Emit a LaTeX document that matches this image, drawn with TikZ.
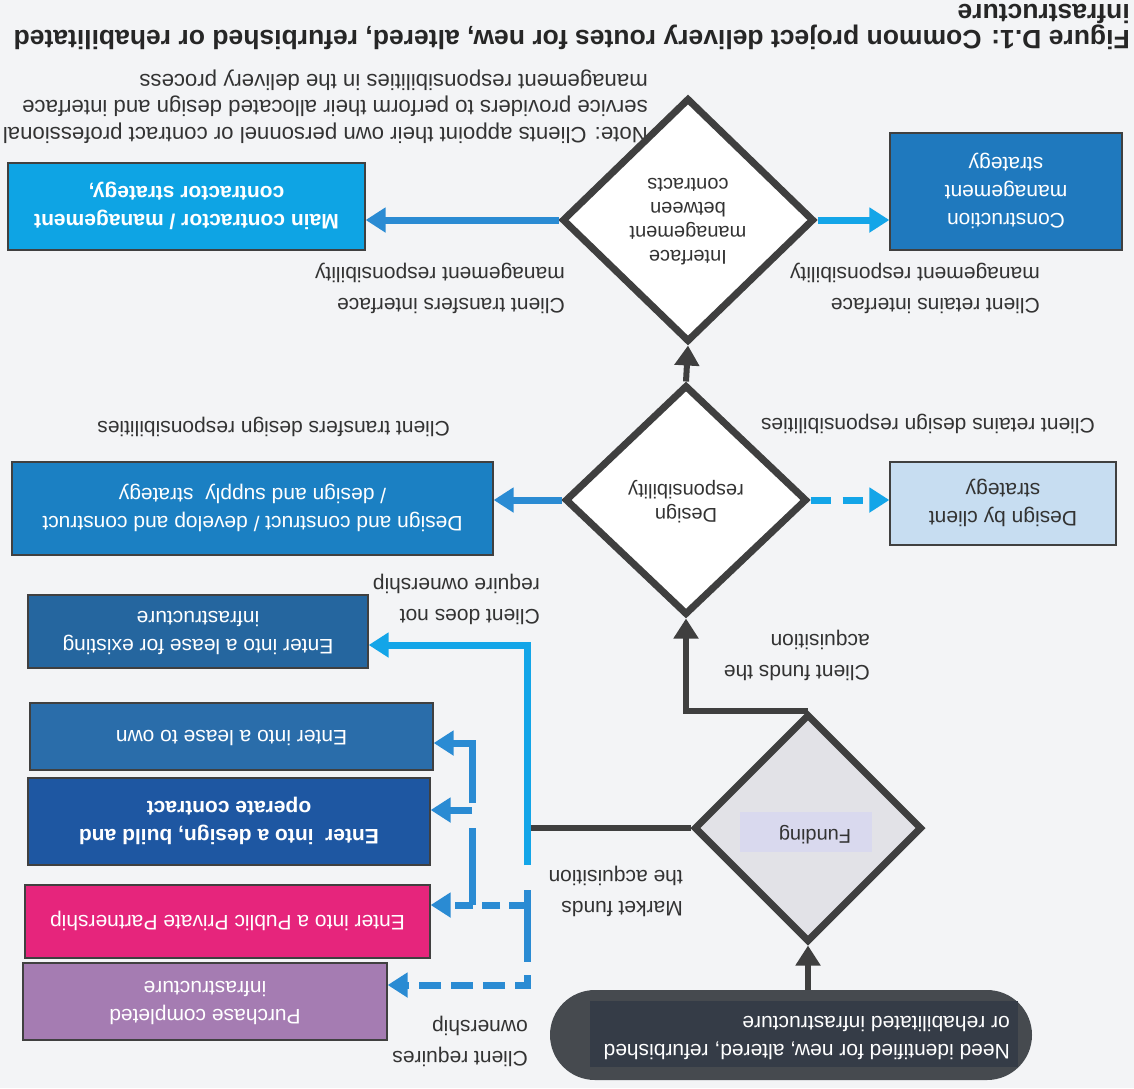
\documentclass[tikz,border=0pt]{standalone}
\usepackage{fontspec}
\setmainfont{Liberation Sans}
\usepackage{graphicx}
\usetikzlibrary{arrows.meta,shapes.geometric}
\definecolor{bgc}{HTML}{F3F4F6}
\definecolor{dline}{HTML}{3F3F3F}
\definecolor{boxline}{HTML}{404040}
\definecolor{cyanb}{HTML}{13A5E8}
\definecolor{midb}{HTML}{2A8BD3}
\definecolor{cmfill}{HTML}{1F79BE}
\definecolor{mcfill}{HTML}{0EA4E4}
\definecolor{dbcfill}{HTML}{C7DDF1}
\definecolor{dcfill}{HTML}{1B80C3}
\definecolor{lefill}{HTML}{25669F}
\definecolor{lofill}{HTML}{2A6DAA}
\definecolor{dbofill}{HTML}{1E57A2}
\definecolor{pppfill}{HTML}{E6257C}
\definecolor{pcfill}{HTML}{A57CB2}
\definecolor{fundfill}{HTML}{E2E2E7}
\definecolor{fundlbl}{HTML}{D9D9EE}
\definecolor{ovalfill}{HTML}{464A4F}
\definecolor{ovalin}{HTML}{353C47}
\definecolor{txt}{HTML}{333333}
\newcommand{\bodyfnt}{\fontsize{21}{28}\selectfont}
\newcommand{\lblfnt}{\fontsize{21}{31}\selectfont}
\newcommand{\notefnt}{\fontsize{22.2}{26.5}\selectfont}
\newcommand{\diafnt}{\fontsize{20}{24}\selectfont}
\newcommand{\titlefnt}{\fontsize{26.5}{22}\selectfont\bfseries}
\newcommand{\flipc}[1]{\rotatebox[origin=c]{180}{\begin{tabular}{@{}c@{}}#1\end{tabular}}}
\newcommand{\flipl}[1]{\rotatebox[origin=c]{180}{\begin{tabular}{@{}l@{}}#1\end{tabular}}}
\begin{document}
\begin{tikzpicture}[x=1pt,y=1pt,
  box/.style={draw=boxline, line width=1.3pt, inner sep=0pt, text=white, font=\bodyfnt},
  lbl/.style={inner sep=0pt, text=txt, font=\lblfnt, anchor=east},
  dia/.style={diamond, draw=dline, line width=7pt, inner sep=0pt, fill=white},
  tip/.style={-{Triangle[width=24pt,length=20pt]}},
  darr/.style={draw=dline, line width=6pt},
  cline/.style={draw=cyanb, line width=7pt},
  mline/.style={draw=midb, line width=7pt}]
\fill[bgc] (0,0) rectangle (1134,-1088);
\useasboundingbox (0,0) rectangle (1134,-1088);

% title and note
\node[lbl, font=\titlefnt, text=black!85] (title) at (1130,-24) {\flipl{Figure D.1: Common project delivery routes for new, altered, refurbished or rehabilitated\\infrastructure}};
\node[lbl, font=\notefnt] (note) at (648,-106) {\flipl{Note: Clients appoint their own personnel or contract professional\\service providers to perform their allocated design and interface\\management responsibilities in the delivery process}};

% start oval
\node[draw=none, fill=ovalfill, rounded corners=45pt, minimum width=482, minimum height=90, inner sep=0pt] (need) at (791,-1035) {};
\node[fill=ovalin, minimum width=428, minimum height=66, inner sep=0pt] (needbg) at (804,-1034) {};
\node[inner sep=0pt, anchor=east, text=white, font=\bodyfnt] (needt) at (1010,-1036) {\flipl{Need identified for new, altered, refurbished\\or rehabilitated infrastructure}};

% diamonds
\node[dia, fill=fundfill, minimum width=228, minimum height=228] (fund) at (808,-828) {};
\node[fill=fundlbl, minimum width=132, minimum height=40, inner sep=0pt] (fundbg) at (806,-832) {};
\node[inner sep=0pt, text=txt, font=\diafnt] (fundt) at (815,-834) {\flipc{Funding}};
\node[dia, minimum width=242, minimum height=230] (dsn) at (686,-500) {};
\node[inner sep=0pt, text=txt, font=\diafnt] (dsnt) at (686,-501) {\flipc{Design\\responsibility}};
\node[dia, minimum width=252, minimum height=244] (intf) at (688,-220) {};
\node[inner sep=0pt, text=txt, font=\diafnt] (intft) at (688,-219) {\flipc{Interface\\management\\between\\contracts}};

% boxes
\node[box, fill=cmfill, minimum width=232, minimum height=117] (cm) at (1006,-191.5) {\flipc{Construction\\management\\strategy}};
\node[box, fill=mcfill, minimum width=357, minimum height=87, font=\bodyfnt\bfseries] (mc) at (186.5,-206.5) {\flipc{Main contractor / management\\contractor strategy,}};
\node[box, fill=dbcfill, text=txt, minimum width=226, minimum height=83] (dbc) at (1003,-503.5) {\flipc{Design by client\\strategy}};
\node[box, fill=dcfill, minimum width=481, minimum height=93] (dc) at (252.5,-508.5) {\flipc{Design and construct / develop and construct\\/ design and supply\ \ strategy}};
\node[box, fill=lefill, minimum width=340, minimum height=73] (le) at (198,-631.5) {\flipc{Enter into a lease for existing\\infrastructure}};
\node[box, fill=lofill, minimum width=403, minimum height=67] (lo) at (231.5,-736.5) {\flipc{Enter into a lease to own}};
\node[box, fill=dbofill, minimum width=402, minimum height=87, font=\bodyfnt\bfseries] (dbo) at (229,-821.5) {\flipc{Enter\ \ into a design, build and\\operate contract}};
\node[box, fill=pppfill, minimum width=405, minimum height=73] (ppp) at (227.5,-921.5) {\flipc{Enter into a Public Private Partnership}};
\node[box, fill=pcfill, minimum width=364, minimum height=77] (pc) at (205,-1001.5) {\flipc{Purchase completed\\infrastructure}};

% labels
\node[lbl] (l1) at (870,-656.5) {\flipl{Client funds the\\acquisition}};
\node[lbl] (l2) at (683,-892) {\flipl{Market funds\\the acquisition}};
\node[lbl] (l3) at (540,-600) {\flipl{Client does not\\require ownership}};
\node[lbl] (l4) at (528,-1042) {\flipl{Client requires\\ownership}};
\node[lbl] (l5) at (1095,-425) {\flipl{Client retains design responsibilities}};
\node[lbl] (l6) at (450,-428) {\flipl{Client transfers design responsibilities}};
\node[lbl] (l7) at (1040,-289) {\flipl{Client retains interface\\management responsibility}};
\node[lbl] (l8) at (565,-289) {\flipl{Client transfers interface\\management responsibility}};

% dark connectors
\draw[darr, tip] (need.north -| fund.south) -- (fund.south);
\draw[darr, tip] (fund.north) -| (dsn.south);
\draw[darr, tip] (dsn.north) -- (intf.south);
\coordinate (jtop) at (527,-645);
\coordinate (jbot) at (527,-865);
\coordinate (jn) at (527,-828);
\draw[darr] (fund.west) -- (jn);

% design / interface arrows
\draw[cline, tip, dash pattern=on 20pt off 12pt] (dsn.east) -- (dsn.east -| dbc.west);
\draw[mline, tip] (dsn.west) -- (dsn.west -| dc.east);
\draw[cline, tip] (intf.east) -- (intf.east -| cm.west);
\draw[mline, tip] (intf.west) -- (intf.west -| mc.east);

% ownership connectors
\draw[cline, tip] (jbot) -- (jtop) -- (jtop -| le.east);
\coordinate (k1) at (527,-890);
\coordinate (k2) at (527,-962);
\coordinate (k3) at (527,-975);
\coordinate (k4) at (527,-985);
\draw[mline] (k1) -- (k2);
\draw[mline, tip, dash pattern=on 22pt off 10pt] (k3) -- (k4) -- (k4 -| pc.east);
\coordinate (p0) at (527,-905);
\draw[mline, tip, dash pattern=on 18pt off 9pt] (p0) -- (p0 -| ppp.east);
\coordinate (q0) at (472,-905);
\coordinate (q1) at (472,-828);
\coordinate (q2) at (472,-803);
\coordinate (q3) at (472,-743);
\coordinate (q4) at (472,-810);
\draw[mline] (q0) -- (q1);
\draw[mline, tip] (q2) -- (q3) -- (q3 -| lo.east);
\draw[mline, tip] (q4) -- (q4 -| dbo.east);
\end{tikzpicture}
\end{document}
